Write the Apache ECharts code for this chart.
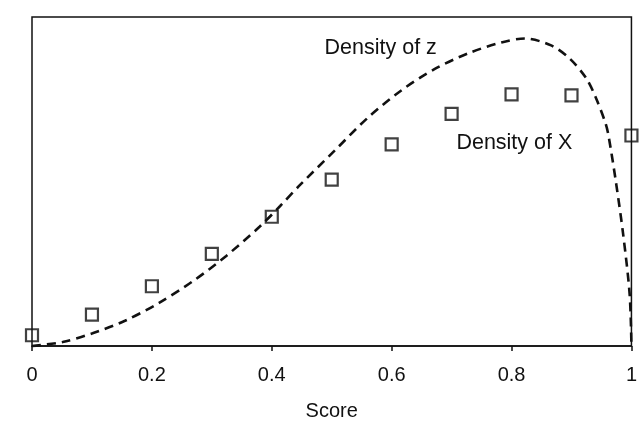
<!DOCTYPE html>
<html>
<head>
<meta charset="utf-8">
<script src="https://cdn.jsdelivr.net/npm/echarts@6/dist/echarts.min.js"></script>
<style>
html,body{margin:0;padding:0;background:#fff;}
#chart{width:640px;height:426px;}
</style>
</head>
<body>
<div id="chart"></div>
<script>
// Density of X (squares), at score 0, 0.1, ..., 1.0
const scoreX = [0, 0.1, 0.2, 0.3, 0.4, 0.5, 0.6, 0.7, 0.8, 0.9, 1.0];
const densityX = [0.11, 0.32, 0.61, 0.94, 1.32, 1.70, 2.06, 2.37, 2.57, 2.56, 2.15];

// Density of z (dashed curve)
const curveScore = [0, 0.051, 0.101, 0.156, 0.212, 0.268, 0.324, 0.38, 0.414, 0.448, 0.504, 0.56, 0.616, 0.672, 0.728, 0.783, 0.822, 0.866, 0.898, 0.925, 0.941, 0.957, 0.962, 0.974, 0.986, 0.997, 1.0];
const curveDensity = [0, 0.04, 0.13, 0.26, 0.44, 0.66, 0.92, 1.22, 1.43, 1.65, 1.99, 2.33, 2.61, 2.83, 2.99, 3.10, 3.14, 3.07, 2.93, 2.73, 2.53, 2.27, 2.14, 1.68, 1.15, 0.53, 0];

const tickValues = [0, 0.2, 0.4, 0.6, 0.8, 1.0];
const labelZ = {text: 'Density of z', x: 0.488, y: 3.03};
const labelX = {text: 'Density of X', x: 0.708, y: 2.06};
const xTitle = 'Score';

const FONT = '"Liberation Sans", Arial, Helvetica, sans-serif';
const INK = '#111';

const chart = echarts.init(document.getElementById('chart'), null, {renderer: 'canvas'});

const option = {
  animation: false,
  backgroundColor: '#fff',
  grid: {
    left: 32, right: 4, top: 17, height: 336,
    show: true, borderColor: INK, borderWidth: 1.5, backgroundColor: 'transparent'
  },
  xAxis: {
    type: 'value', min: tickValues[0], max: tickValues[tickValues.length - 1], interval: 0.2,
    name: xTitle, nameLocation: 'middle', nameGap: 55,
    nameTextStyle: {fontFamily: FONT, fontSize: 20, color: INK},
    axisLine: {show: true, lineStyle: {color: INK, width: 1.5}},
    axisTick: {show: true, inside: false, length: 5, lineStyle: {color: INK, width: 1.5}},
    axisLabel: {
      margin: 19, fontFamily: FONT, fontSize: 20, color: INK,
      showMinLabel: true, showMaxLabel: true,
      formatter: v => (v === 0 ? '0' : (v === 1 ? '1' : v.toFixed(1)))
    },
    splitLine: {show: false}
  },
  yAxis: {
    type: 'value', min: 0, max: 3.36,
    show: false, splitLine: {show: false}
  },
  series: [
    {
      name: 'Density of z',
      type: 'line',
      data: curveScore.map((s, i) => [s, curveDensity[i]]),
      showSymbol: false,
      smooth: 0.3,
      clip: false,
      lineStyle: {color: INK, width: 2.6, type: [9, 6]}
    },
    {
      name: 'Density of X',
      type: 'scatter',
      data: scoreX.map((s, i) => [s, densityX[i]]),
      symbol: 'rect',
      symbolSize: 12,
      clip: false,
      itemStyle: {color: 'rgba(0,0,0,0)', borderColor: INK, borderWidth: 2.2}
    }
  ]
};
chart.setOption(option);

function placeLabels() {
  const pz = chart.convertToPixel({gridIndex: 0}, [labelZ.x, labelZ.y]);
  const px = chart.convertToPixel({gridIndex: 0}, [labelX.x, labelX.y]);
  chart.setOption({
    graphic: [
      {type: 'text', left: pz[0], top: pz[1] - 12, style: {text: labelZ.text, font: '21.5px ' + FONT, fill: INK}},
      {type: 'text', left: px[0], top: px[1] - 12, style: {text: labelX.text, font: '21.5px ' + FONT, fill: INK}}
    ]
  });
}
placeLabels();
</script>
</body>
</html>
